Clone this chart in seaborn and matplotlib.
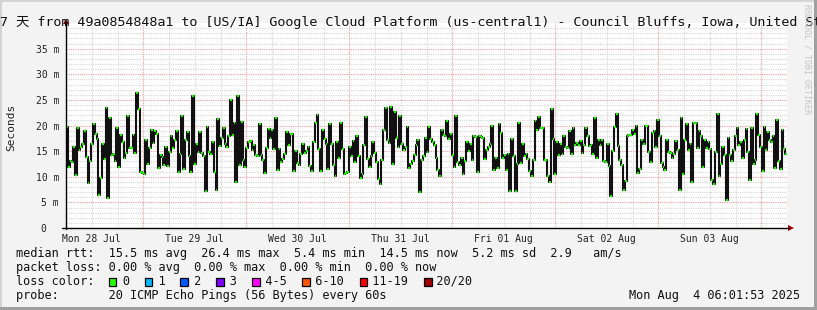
import numpy as np
import pandas as pd
import matplotlib
matplotlib.use("Agg")
import matplotlib.pyplot as plt
import matplotlib.dates as mdates
from matplotlib.patches import Rectangle, Polygon
import seaborn as sns

# ---------------- data (median rtt in ms) ----------------
rtt_part1 = [19.7, 12.0, 13.0, 12.9, 15.9, 10.3, 19.5, 15.3, 15.9, 16.4,
             19.0, 13.8, 8.8, 13.0, 16.4, 20.2, 18.4, 17.3, 6.4, 9.7,
             16.4, 13.4, 23.4, 5.9, 21.4, 14.2, 14.4, 13.0, 19.6, 12.0,
             18.2, 16.7, 13.6, 14.7, 21.9, 15.6, 15.6, 18.2, 14.7, 26.4,
             23.2, 10.9, 10.7, 10.5, 17.1, 12.5, 15.6, 19.1, 16.5, 19.0,
             18.4, 11.8, 14.3, 13.8, 12.3, 15.9, 12.1, 14.9, 18.0, 15.6,
             17.1, 19.0, 10.9, 14.5, 21.8, 11.6, 17.2, 18.8, 14.1, 10.9,
             25.8, 12.5, 16.4, 14.8, 18.8, 14.7, 14.0, 7.3]
rtt_part2 = [19.8, 14.8, 14.5, 16.7, 11.0, 7.5, 21.2, 16.0, 17.6, 19.6,
             16.4, 15.9, 17.9, 24.9, 18.2, 20.5, 8.9, 25.8, 12.3, 20.7,
             13.3, 12.0, 15.6, 16.8, 17.0, 15.3, 16.2, 14.3, 14.1, 20.3,
             14.3, 13.3, 10.7, 15.6, 19.4, 17.5, 19.2, 15.5, 21.5, 11.4,
             15.5, 12.9, 13.5, 14.4, 18.7, 16.1, 18.4, 18.4, 11.2, 15.1,
             12.7, 12.3, 14.5, 16.3, 14.7, 15.1, 15.9, 12.1, 11.2, 16.8,
             20.5, 22.1, 15.4, 11.1, 19.2, 17.3, 16.3, 11.5, 20.2, 16.3,
             12.2, 10.1, 16.8, 13.7, 20.5, 15.5, 10.6]
rtt_part3 = [10.7, 10.9, 15.9, 14.1, 16.9, 12.9, 18.0, 14.0, 9.7, 10.5,
             16.1, 21.6, 13.5, 12.0, 14.1, 16.8, 14.6, 12.8, 9.6, 8.5,
             13.2, 19.2, 23.4, 17.2, 16.6, 23.7, 12.5, 22.7, 17.5, 15.8,
             21.8, 16.4, 15.3, 15.9, 19.7, 11.7, 12.5, 13.0, 14.2, 16.1,
             17.1, 7.1, 13.3, 14.1, 17.5, 14.9, 19.7, 17.4, 16.8, 16.2,
             13.7, 11.4, 10.2, 19.2, 18.2, 18.0, 20.8, 17.4, 18.4, 14.3,
             11.9, 21.9, 12.8, 12.3, 13.7, 10.6, 13.0, 16.7, 15.1, 16.3,
             13.2, 17.9, 17.7, 11.0, 18.0, 17.8, 17.5, 13.5, 15.3, 15.9,
             16.4, 20.0]
rtt_part4 = [11.4, 13.7, 11.8, 20.2, 18.6, 13.7, 14.2, 11.4, 14.5, 7.3,
             17.3, 14.0, 7.3, 12.4, 20.5, 12.7, 16.4, 14.0, 14.4, 13.4,
             11.1, 10.2, 13.3, 20.8, 19.2, 21.6, 19.5, 19.5, 13.3, 13.3,
             10.2, 9.0, 23.2, 17.4, 10.5, 16.8, 14.2, 16.4, 14.4, 17.9,
             15.9, 15.6, 18.9, 14.5, 19.5, 16.2, 16.6, 16.1, 16.9, 14.7,
             16.1, 19.5, 17.9, 16.0, 16.1, 14.5, 21.5, 13.6, 17.2, 16.1,
             17.2, 13.1, 12.9, 16.4, 12.1, 6.3, 15.1, 19.7, 22.3, 16.0,
             13.3, 12.3, 7.5, 9.2, 17.9, 18.1, 18.2, 19.2, 18.4, 20.0,
             10.8]
rtt_part5 = [11.6, 17.2, 16.3, 19.9, 19.9, 14.8, 12.8, 18.6, 19.0, 15.8,
             21.0, 18.0, 12.7, 12.0, 11.4, 17.2, 14.8, 14.6, 13.7, 14.5,
             17.0, 15.3, 7.5, 21.5, 10.6, 17.1, 20.3, 15.3, 16.4, 8.9,
             20.4, 20.5, 15.6, 19.0, 18.0, 12.0, 17.1, 15.6, 16.8, 15.5,
             9.4, 8.5, 14.8, 22.2, 10.2, 12.4, 15.8, 14.2, 5.4, 17.5,
             14.2, 13.1, 15.3, 18.0, 19.5, 16.2, 16.7, 13.6, 17.2, 19.4,
             14.8, 9.4, 19.6, 12.5, 13.2, 22.3, 18.2, 15.9, 11.1, 19.8,
             15.3, 18.7, 17.2, 16.8, 17.9, 11.8, 21.0, 13.1, 11.6, 19.2,
             15.5, 14.5]

day_labels = ["Mon 28 Jul", "Tue 29 Jul", "Wed 30 Jul", "Thu 31 Jul",
              "Fri 01 Aug", "Sat 02 Aug", "Sun 03 Aug"]
y_major = [0, 5, 10, 15, 20, 25, 30, 35]
y_labels = ["0\u00a0\u00a0", "5 m", "10 m", "15 m", "20 m", "25 m", "30 m", "35 m"]
loss_labels = ["0", "1", "2", "3", "4-5", "6-10", "11-19", "20/20"]
loss_colors = ["#26ff00", "#00b8ff", "#0059ff", "#7e00ff", "#ff00ff",
               "#ff5500", "#ff0000", "#a10000"]

title = ("7 天 from 49a0854848a1 to [US/IA] Google Cloud Platform "
         "(us-central1) - Council Bluffs, Iowa, United States")
line_rtt = "median rtt:  15.5 ms avg  26.4 ms max  5.4 ms min  14.5 ms now  5.2 ms sd  2.9   am/s"
line_loss = "packet loss: 0.00 % avg  0.00 % max  0.00 % min  0.00 % now"
line_probe = "probe:       20 ICMP Echo Pings (56 Bytes) every 60s"
stamp = "Mon Aug  4 06:01:53 2025"

# ---------------- setup ----------------
sns.set_theme(style="white")
plt.rcParams["font.family"] = ["DejaVu Sans Mono", "Noto Sans CJK SC"]

W, H = 817, 310
fig = plt.figure(figsize=(W / 100, H / 100), dpi=100)
fig.patch.set_facecolor("#F3F3F3")

L, R, T, B = 66, 787, 23, 228
ax = fig.add_axes([L / W, 1 - B / H, (R - L) / W, (B - T) / H])
ax.set_facecolor("white")

values = np.array(rtt_part1 + rtt_part2 + rtt_part3 + rtt_part4 + rtt_part5)
n = len(values)
start = pd.Timestamp("2025-07-28 06:00")
end = pd.Timestamp("2025-08-04 06:00")
edges = mdates.date2num(pd.date_range(start, end, periods=n + 1).to_pydatetime())

x_line = np.append(edges[:-1], edges[-1])
y_line = np.append(values, values[-1])
df = pd.DataFrame({"t": x_line, "rtt": y_line})

# grid
for v in range(1, 40):
    if v % 5:
        ax.axhline(v, color="#d6d6d6", lw=0.8, ls=(0, (1, 1)), zorder=0)
for v in y_major[1:]:
    ax.axhline(v, color="#f0a0a0", lw=0.8, ls=(0, (1, 1)), zorder=0.5)
days = pd.date_range("2025-07-28", "2025-08-04 06:00", freq="6h")
for d in days:
    xx = mdates.date2num(d.to_pydatetime())
    if d.hour == 0:
        ax.axvline(xx, color="#f0a0a0", lw=0.8, ls=(0, (1, 1)), zorder=0.5)
    else:
        ax.axvline(xx, color="#d6d6d6", lw=0.8, ls=(0, (1, 1)), zorder=0)

sns.lineplot(data=df, x="t", y="rtt", drawstyle="steps-post", color="#111111",
             lw=1.5, ax=ax, estimator=None, zorder=2)
ax.hlines(values, edges[:-1], edges[1:], colors="#22ee00", lw=1.6, zorder=3)

ax.set_xlim(edges[0], edges[-1])
ax.set_ylim(0, 40)
ax.set_xlabel("")
ax.set_ylabel("")
noon = [mdates.date2num((pd.Timestamp("2025-07-28 12:00") + pd.Timedelta(days=i)).to_pydatetime())
        for i in range(len(day_labels))]
ax.set_xticks(noon, day_labels)
ax.set_yticks(y_major, y_labels)
ax.tick_params(axis="both", length=0, labelsize=7, colors="#222222")
ax.tick_params(axis="x", pad=4)
ax.tick_params(axis="y", pad=5)
for s in ax.spines.values():
    s.set_visible(False)

# ---------------- overlay in pixel coordinates ----------------
ov = fig.add_axes([0, 0, 1, 1])
ov.set_xlim(0, W)
ov.set_ylim(H, 0)
ov.axis("off")
ov.patch.set_alpha(0)

# axes lines + arrows
ov.plot([L, L], [B + 1, T - 1], color="black", lw=1)
ov.plot([L - 4, R + 2], [B, B], color="black", lw=1)
ov.add_patch(Polygon([[L - 3, T + 1], [L + 3, T + 1], [L, T - 4]], closed=True,
                     color="#a00000", lw=0))
ov.add_patch(Polygon([[R + 1, B - 3], [R + 1, B + 3], [R + 7, B]], closed=True,
                     color="#a00000", lw=0))

# title
ov.text(0, 26, title, fontsize=9.6, color="#111111", ha="left", va="baseline",
        family=["DejaVu Sans Mono", "Noto Sans CJK SC"], clip_on=False)
# y label
ov.text(11, 127, "Seconds", fontsize=8, rotation=90, ha="center", va="center",
        color="#222222")
# watermark
ov.text(807, 4, "RRDTOOL / TOBI OETIKER", fontsize=6, rotation=270, ha="center",
        va="top", color="#c4c4c4")

# legend lines
fs = 8.6
cw = 7.17
x0 = 16
ov.text(x0, 257, line_rtt, fontsize=fs, ha="left", va="baseline", color="#111111")
ov.text(x0, 271, line_loss, fontsize=fs, ha="left", va="baseline", color="#111111")
legend_str = "loss color:"
col = len(legend_str) + 2
for lab, c in zip(loss_labels, loss_colors):
    legend_str += "    " + lab
    ov.add_patch(Rectangle((x0 + col * cw - 0.5, 277.5), 7.5, 8, facecolor=c,
                           edgecolor="black", lw=0.9))
    col += len(lab) + 4
ov.text(x0, 285, legend_str, fontsize=fs, ha="left", va="baseline", color="#111111")
ov.text(x0, 299, line_probe, fontsize=fs, ha="left", va="baseline", color="#111111")
ov.text(800, 299, stamp, fontsize=fs, ha="right", va="baseline", color="#111111")

# frame
ov.add_patch(Rectangle((0, 0), W, 2, color="#d4d4d4", lw=0))
ov.add_patch(Rectangle((0, 0), 2, H, color="#d4d4d4", lw=0))
ov.add_patch(Rectangle((0, H - 3), W, 3, color="#a0a0a0", lw=0))
ov.add_patch(Rectangle((W - 3, 0), 3, H, color="#a0a0a0", lw=0))

fig.savefig("out.png", dpi=100, facecolor=fig.get_facecolor())
